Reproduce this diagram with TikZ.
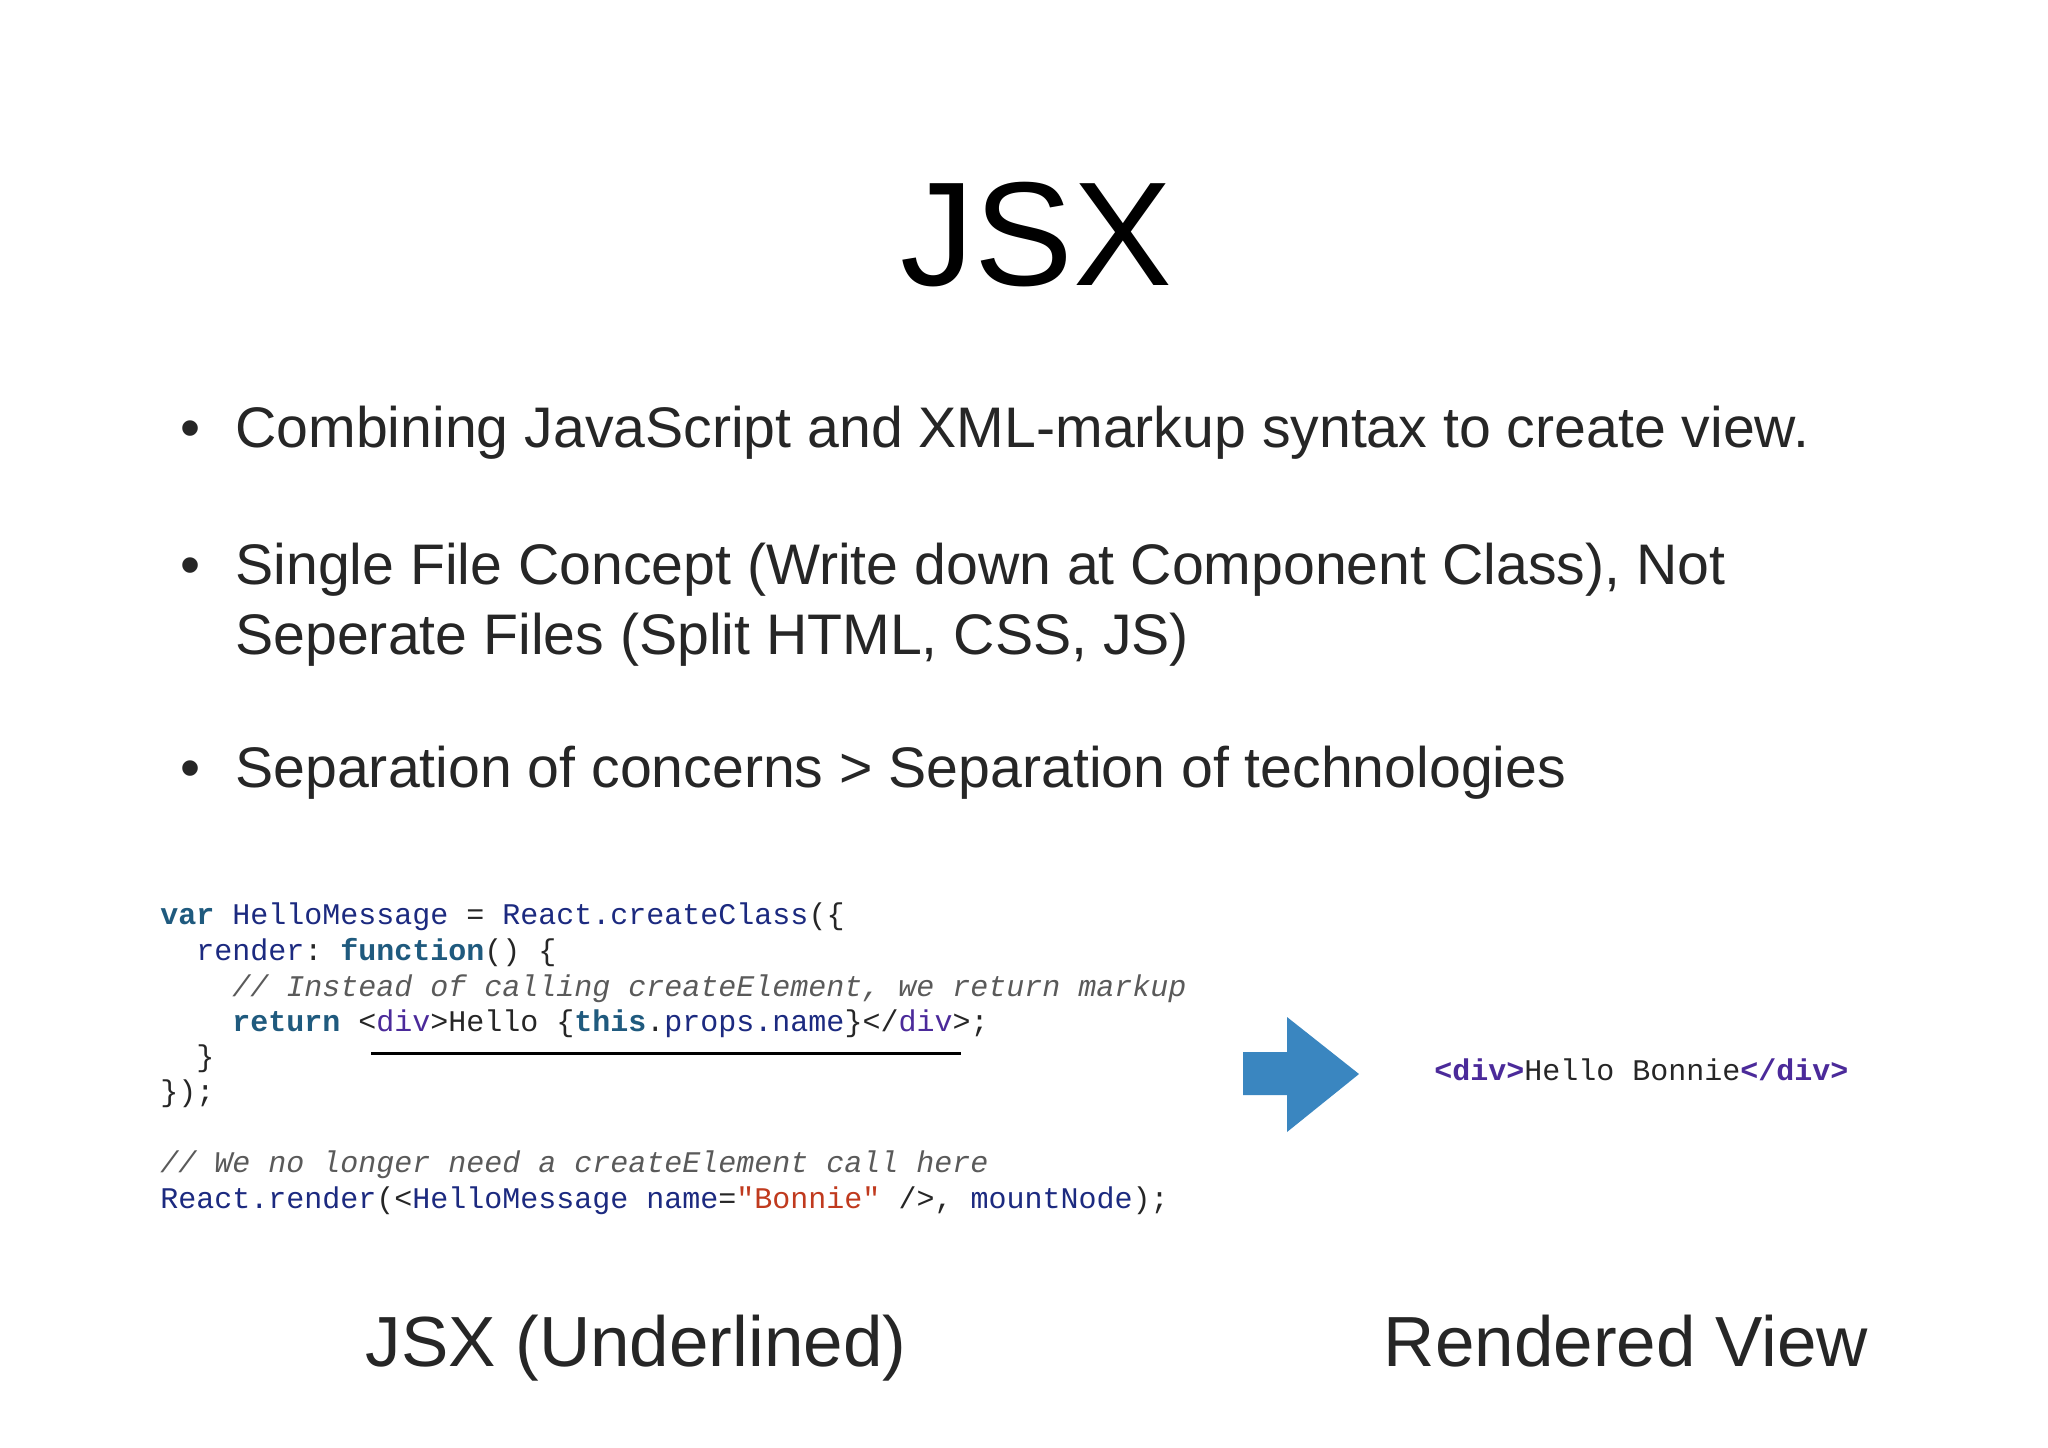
\documentclass[tikz,border=0pt]{standalone}
\usepackage{fontspec}
\setmainfont{Liberation Sans}
\setmonofont{Liberation Mono}
\usetikzlibrary{positioning}
\definecolor{kwblue}{HTML}{1F5A7E}
\definecolor{nmblue}{HTML}{1C2A80}
\definecolor{cmgray}{HTML}{5A5A5A}
\definecolor{strred}{HTML}{C03A1E}
\definecolor{tagpurple}{HTML}{4B2A9A}
\definecolor{arrowblue}{HTML}{3A86C0}
\newcommand{\kw}[1]{\textcolor{kwblue}{\bfseries #1}}
\newcommand{\nm}[1]{\textcolor{nmblue}{#1}}
\newcommand{\cm}[1]{\textcolor{cmgray}{\itshape #1}}
\newcommand{\st}[1]{\textcolor{strred}{#1}}
\newcommand{\tg}[1]{\textcolor{tagpurple}{#1}}
\tikzset{
  bullettext/.style={anchor=base west, inner sep=0, font=\fontsize{28.6}{34}\selectfont, text=black!85},
  codeline/.style={anchor=base west, inner sep=0, font=\ttfamily\fontsize{15}{18}\selectfont, text=black!85},
  caption/.style={anchor=base, inner sep=0, font=\fontsize{35.5}{42}\selectfont, text=black!85}
}
\begin{document}
\begin{tikzpicture}[x=0.5pt, y=-0.5pt]
    \useasboundingbox[fill=white] (0,0) rectangle (2048,1447);
    % title
    \node[anchor=base, inner sep=0, font=\fontsize{74}{84}\selectfont] (title) at (1036,285) {JSX};
    % bullets
    \node[bullettext] (b1) at (235,447) {Combining JavaScript and XML-markup syntax to create view.};
    \node[bullettext] (b2) at (235,584) {Single File Concept (Write down at Component Class), Not};
    \node[bullettext] (b2b) at (235,654) {Seperate Files (Split HTML, CSS, JS)};
    \node[bullettext] (b3) at (235,787) {Separation of concerns > Separation of technologies};
    \node[bullettext] (d1) at (180,447) {•};
    \node[bullettext] (d2) at (180,584) {•};
    \node[bullettext] (d3) at (180,787) {•};
    % code sample
    \node[codeline] (c1) at (160,924) {\kw{var} \nm{HelloMessage} = \nm{React.createClass}(\{};
    \node[codeline] (c2) at (196,960) {\nm{render}: \kw{function}() \{};
    \node[codeline] (c3) at (232,996) {\cm{// Instead of calling createElement, we return markup}};
    \node[codeline] (c4) at (232,1031) {\kw{return} <\tg{div}>Hello \{\kw{this}.\nm{props.name}\}</\tg{div}>;};
    \node[codeline] (c5) at (196,1066) {\}};
    \node[codeline] (c6) at (160,1101) {\});};
    \node[codeline] (c7) at (160,1172) {\cm{// We no longer need a createElement call here}};
    \node[codeline] (c8) at (160,1208) {\nm{React.render}(<\nm{HelloMessage} \nm{name}=\st{"Bonnie"} />, \nm{mountNode});};
    \coordinate (ul1) at (371,1053);
    \coordinate (ul2) at (961,1053);
    \draw[line width=1.5pt] (ul1) -- (ul2);
    % arrow
    \fill[arrowblue] (1243,1052) -- (1287,1052) -- (1287,1017) -- (1359,1074) -- (1287,1132) -- (1287,1095) -- (1243,1095) -- cycle;
    \node[codeline] (out) at (1434,1080) {\tg{\bfseries <div>}Hello Bonnie\tg{\bfseries </div>}};
    % captions
    \node[caption] (cap1) at (636,1366) {JSX (Underlined)};
    \node[caption] (cap2) at (1626,1366) {Rendered View};
\end{tikzpicture}
\end{document}
